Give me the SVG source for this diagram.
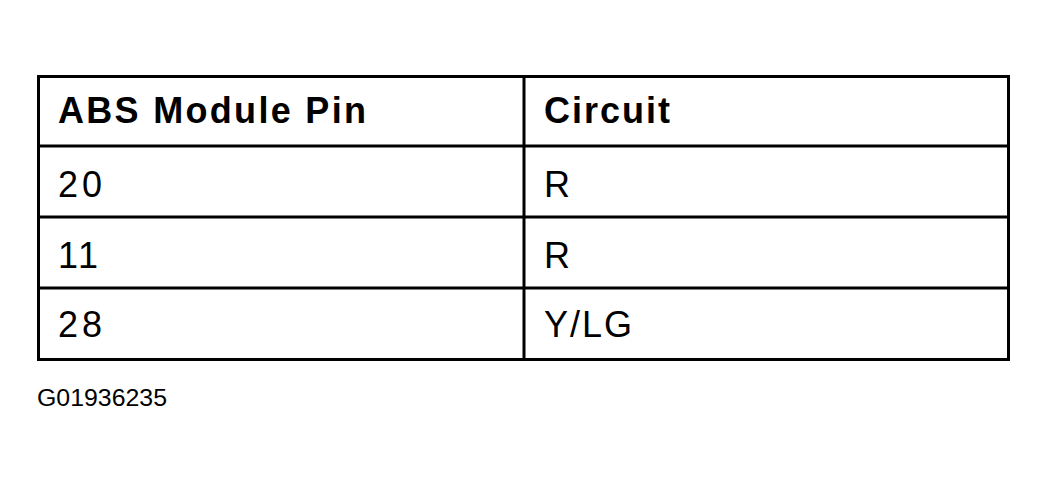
<svg xmlns="http://www.w3.org/2000/svg" width="1049" height="481" viewBox="0 0 1049 481">
<style>
.l{stroke:#000;stroke-width:3;fill:none}
.t{font-family:"Liberation Sans",Arial,sans-serif;font-size:36px;fill:#000}
.b{font-weight:bold}
</style>
<rect width="1049" height="481" fill="#fff"/>
<g id="table">
<rect class="l" x="38.5" y="76.5" width="970" height="283"/>
<line class="l" x1="38" y1="146" x2="1008" y2="146"/>
<line class="l" x1="38" y1="217" x2="1008" y2="217"/>
<line class="l" x1="38" y1="288" x2="1008" y2="288"/>
<line class="l" x1="524" y1="76" x2="524" y2="360"/>
</g>
<g id="text">
<text class="t b" x="58" y="123" textLength="308" lengthAdjust="spacing">ABS Module Pin</text>
<text class="t b" x="544" y="123" textLength="126" lengthAdjust="spacing">Circuit</text>
<text class="t" x="58" y="197" textLength="44" lengthAdjust="spacing">20</text>
<text class="t" x="544" y="197">R</text>
<text class="t" x="58" y="268" textLength="40" lengthAdjust="spacing">11</text>
<text class="t" x="544" y="268">R</text>
<text class="t" x="58" y="337" textLength="44" lengthAdjust="spacing">28</text>
<text class="t" x="544" y="337" textLength="88" lengthAdjust="spacing">Y/LG</text>
<text class="t" style="font-size:23px" x="37" y="406" textLength="130" lengthAdjust="spacingAndGlyphs">G01936235</text>
</g>
</svg>
